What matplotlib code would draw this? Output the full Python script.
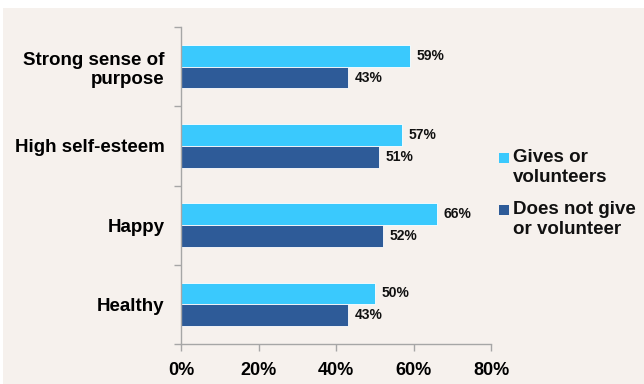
import matplotlib
matplotlib.use("Agg")
import matplotlib.pyplot as plt
import numpy as np
from matplotlib.patches import Rectangle

categories = ["Strong sense of\npurpose", "High self-esteem", "Happy", "Healthy"]
gives = [59, 57, 66, 50]
not_gives = [43, 51, 52, 43]
series_labels = ["Gives or\nvolunteers", "Does not give\nor volunteer"]
xticks = [0, 20, 40, 60, 80]

light = "#3ac9fd"
dark = "#2e5b98"
bg = "#f6f1ed"

plt.rcParams['font.family'] = ['Liberation Sans', 'DejaVu Sans']
plt.rcParams['font.weight'] = 'bold'

W, H = 644, 384
fig = plt.figure(figsize=(W/100, H/100), dpi=100, facecolor="white")
fig.patches.append(Rectangle((3/W, 0), 1 - 3/W, 1 - 8/H, transform=fig.transFigure,
                             facecolor=bg, edgecolor="none", zorder=-10))

ax = fig.add_axes([181/W, 1 - 344/H, (491-181)/W, (344-27)/H])
ax.patch.set_alpha(0)

n = len(categories)
y = np.arange(n)[::-1]  # top category at highest y
bh = 0.275
b1 = ax.barh(y + bh/2, gives, height=bh, color=light, edgecolor="white", linewidth=0.6, label=series_labels[0])
b2 = ax.barh(y - bh/2, not_gives, height=bh, color=dark, edgecolor="white", linewidth=0.6, label=series_labels[1])
for bars, vals in ((b1, gives), (b2, not_gives)):
    for rect, v in zip(bars, vals):
        ax.annotate(f"{v}%", (v, rect.get_y() + rect.get_height()/2), xytext=(5, 0),
                    textcoords="offset points", va="center", ha="left",
                    fontsize=10, fontweight="bold", color="#111111")

ax.set_xlim(0, 80)
ax.set_ylim(-0.5, n - 0.5)
ax.set_xticks(xticks)
ax.set_xticklabels([f"{t}%" for t in xticks], fontsize=13, fontweight="bold")
ax.set_yticks(y)
ax.set_yticklabels(categories, fontsize=13.5, fontweight="bold", linespacing=1.15)
ax.set_yticks(np.arange(n + 1) - 0.5, minor=True)
ax.tick_params(axis="y", which="major", length=0, pad=12)
ax.tick_params(axis="y", which="minor", length=5, color="#a6a6a6", width=1)
ax.tick_params(axis="x", which="major", length=5, color="#a6a6a6", width=1, pad=8)
for s in ("top", "right"):
    ax.spines[s].set_visible(False)
for s in ("left", "bottom"):
    ax.spines[s].set_color("#a6a6a6")
    ax.spines[s].set_linewidth(1)
for lab in ax.get_yticklabels():
    lab.set_horizontalalignment("right")

# Legend (drawn manually so the swatch aligns with the first text line)
leg_entries = [(series_labels[0], light, 153), (series_labels[1], dark, 205)]
for label, col, ytop in leg_entries:
    fig.patches.append(Rectangle((499/W, 1 - (ytop + 10)/H), 10/W, 10/H,
                                 transform=fig.transFigure, facecolor=col,
                                 edgecolor="none"))
    fig.text(513/W, 1 - (ytop - 4)/H, label, fontsize=13.5, fontweight="bold",
             va="top", ha="left", linespacing=1.25, color="#111111")

fig.savefig("out.png", dpi=100, facecolor=fig.get_facecolor())
